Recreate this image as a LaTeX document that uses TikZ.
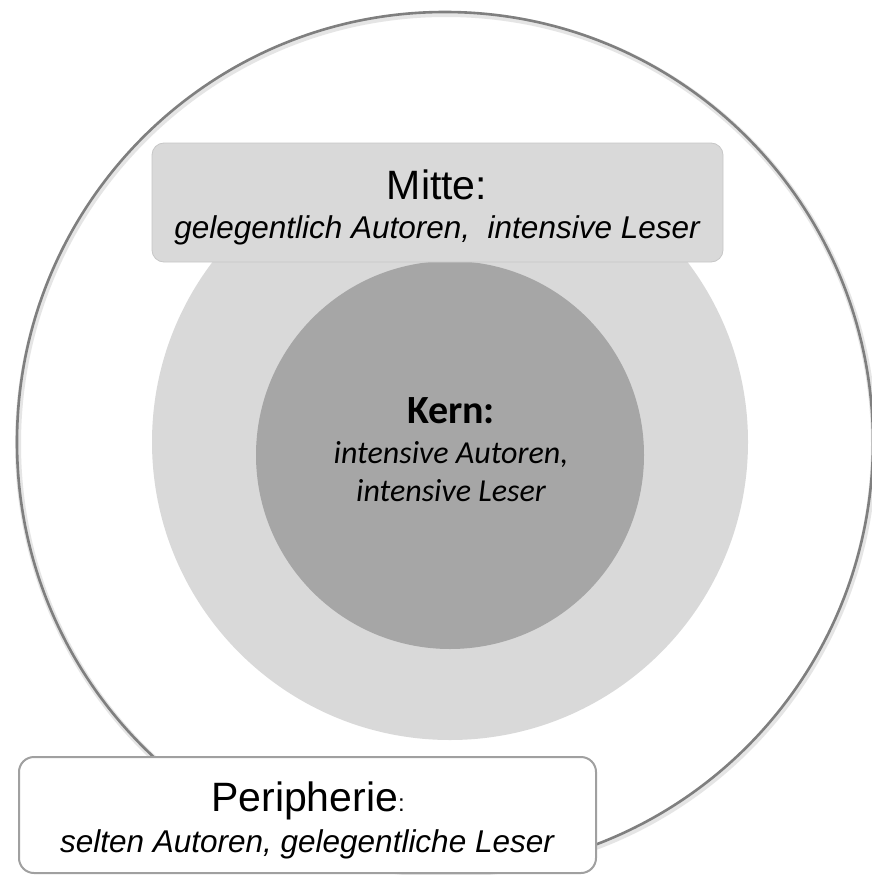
\documentclass[tikz,border=0pt]{standalone}
\usepackage{fontspec}
\setmainfont{Liberation Sans}
\newfontfamily\calfont{Carlito}
\definecolor{ringline}{HTML}{7F7F7F}
\definecolor{midgray}{HTML}{D9D9D9}
\definecolor{kerngray}{HTML}{A6A6A6}
\definecolor{boxline}{HTML}{A0A0A0}
\begin{document}
\begin{tikzpicture}[x=1pt,y=-1pt,
  ringstyle/.style={draw=ringline,line width=2.6pt},
  shadowstyle/.style={draw=black!10,line width=6pt},
  labelbox/.style={rounded corners=#1},
  titletext/.style={anchor=base,inner sep=0pt,font=\fontsize{41}{48}\selectfont},
  subtext/.style={anchor=base,inner sep=0pt,font=\fontsize{31.5}{36}\selectfont\itshape},
  kerntitle/.style={anchor=base,inner sep=0pt,font=\calfont\fontsize{40}{46}\selectfont\bfseries},
  kernsub/.style={anchor=base,inner sep=0pt,font=\calfont\fontsize{32}{38}\selectfont\itshape}]
\useasboundingbox (0,0) rectangle (872,875);
\fill[white] (0,0) rectangle (872,875);
% outer ring with soft shadow
\draw[shadowstyle] (446,444) ellipse [x radius=428, y radius=430];
\draw[ringstyle] (445,442) ellipse [x radius=428, y radius=430];
% middle disc and core
\fill[midgray] (450,442) circle [radius=298];
\fill[kerngray] (450,455) circle [radius=194];
% Mitte label box
\draw[labelbox=12pt,fill=midgray,draw=black!22,line width=0.8pt] (152,143) rectangle (723,262);
\node[titletext] (mitte) at (437,199) {Mitte:};
\node[subtext] (mittesub) at (437,238) {gelegentlich Autoren,\ \ intensive Leser};
% Kern labels
\node[kerntitle] (kern) at (451,423) {Kern:};
\node[kernsub] (kernsub1) at (451,463) {intensive Autoren,};
\node[kernsub] (kernsub2) at (451,501) {intensive Leser};
% Peripherie label box
\draw[labelbox=15pt,fill=white,draw=boxline,line width=2pt] (19,757) rectangle (596,873);
\node[titletext] (peri) at (308,811) {Peripherie{\fontsize{24}{28}\selectfont:}};
\node[subtext] (perisub) at (307,852) {selten Autoren, gelegentliche Leser};
\end{tikzpicture}
\end{document}
